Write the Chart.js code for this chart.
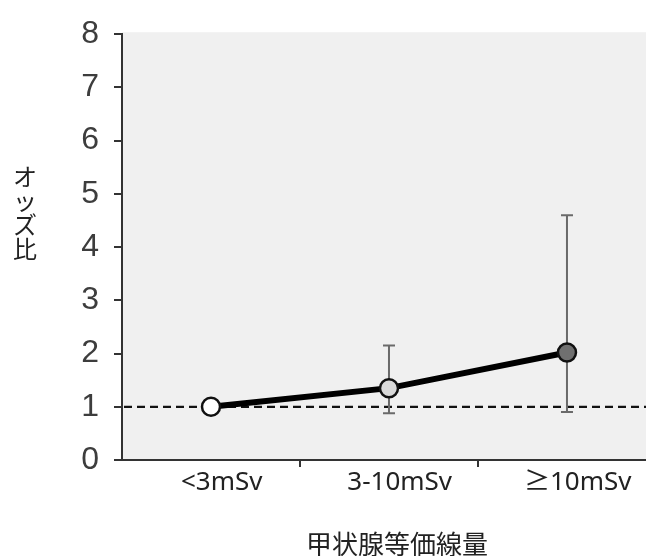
<!DOCTYPE html>
<html>
<head>
<meta charset="utf-8">
<script src="https://cdn.jsdelivr.net/npm/chart.js@4.4.1/dist/chart.umd.min.js"></script>
<style>
  html, body { margin: 0; padding: 0; background: #fff; overflow: hidden; }
</style>
</head>
<body>
<canvas id="c" width="646" height="556"></canvas>
<script>
const categories = ['<3mSv', '3-10mSv', '≥10mSv'];
const categoryPositions = [0, 1, 2];
const oddsRatio = [1.0, 1.35, 2.02];
const ciLow = [1.0, 0.88, 0.90];
const ciHigh = [1.0, 2.15, 4.6];
const yTicks = [0, 1, 2, 3, 4, 5, 6, 7, 8];
const xTickMarks = [0.5, 1.5];
const referenceValue = 1;
const xTitle = '甲状腺等価線量';
const yTitle = 'オッズ比';
const pointFills = ['#ffffff', '#d9d9d9', '#707070'];
const labelShift = 0.06; // label placement nudge (style)

const bgPlugin = {
  id: 'bg',
  beforeDraw(chart) {
    const { ctx, chartArea } = chart;
    ctx.save();
    ctx.fillStyle = '#f0f0f0';
    ctx.fillRect(chartArea.left, chartArea.top - 2, chartArea.right - chartArea.left, chartArea.bottom - chartArea.top + 2);
    ctx.restore();
  }
};

const refAndErrPlugin = {
  id: 'referr',
  beforeDatasetsDraw(chart) {
    const { ctx, chartArea, scales } = chart;
    const y = scales.y, x = scales.x;
    ctx.save();
    const yr = y.getPixelForValue(referenceValue);
    ctx.strokeStyle = '#111';
    ctx.lineWidth = 2.2;
    ctx.setLineDash([8, 5]);
    ctx.beginPath();
    ctx.moveTo(chartArea.left + 2, yr);
    ctx.lineTo(chartArea.right, yr);
    ctx.stroke();
    ctx.setLineDash([]);
    ctx.strokeStyle = '#6a6a6a';
    ctx.lineWidth = 2;
    categoryPositions.forEach((pos, i) => {
      if (ciHigh[i] === ciLow[i]) return;
      const px = x.getPixelForValue(pos);
      const yl = y.getPixelForValue(ciLow[i]);
      const yh = y.getPixelForValue(ciHigh[i]);
      ctx.beginPath();
      ctx.moveTo(px, yl); ctx.lineTo(px, yh);
      ctx.moveTo(px - 6, yl); ctx.lineTo(px + 6, yl);
      ctx.moveTo(px - 6, yh); ctx.lineTo(px + 6, yh);
      ctx.stroke();
    });
    ctx.restore();
  }
};

const titlesPlugin = {
  id: 'titles',
  afterDraw(chart) {
    const { ctx } = chart;
    ctx.save();
    ctx.fillStyle = '#222';
    ctx.font = '24px "Noto Sans CJK JP"';
    ctx.textAlign = 'center';
    ctx.textBaseline = 'middle';
    Array.from(yTitle).forEach((ch, i) => {
      ctx.fillText(ch, 25, 177 + i * 24);
    });
    ctx.font = '26px "Noto Sans CJK JP"';
    ctx.fillText(xTitle, 397, 544);
    ctx.restore();
  }
};

const labelPositions = categoryPositions.map(p => p + labelShift);

new Chart(document.getElementById('c'), {
  type: 'line',
  data: {
    datasets: [{
      data: categoryPositions.map((p, i) => ({ x: p, y: oddsRatio[i] })),
      borderColor: '#000',
      borderWidth: 6,
      tension: 0,
      pointRadius: 9,
      pointBorderWidth: 2.5,
      pointBorderColor: '#111',
      pointBackgroundColor: pointFills
    }]
  },
  options: {
    responsive: false,
    animation: false,
    layout: { autoPadding: false, padding: { top: 32, left: 0, right: 0, bottom: 0 } },
    plugins: { legend: { display: false }, tooltip: { enabled: false } },
    scales: {
      x: {
        type: 'linear',
        min: -0.5,
        max: 2.444,
        afterBuildTicks(s) {
          s.ticks = labelPositions.concat(xTickMarks).sort((a, b) => a - b).map(v => ({ value: v }));
        },
        grid: {
          drawOnChartArea: false, tickLength: 7, lineWidth: 2,
          tickColor: (c) => (c.tick && xTickMarks.includes(c.tick.value)) ? '#333' : 'rgba(0,0,0,0)'
        },
        border: { color: '#333', width: 2 },
        ticks: {
          color: '#222', padding: 0, maxRotation: 0, autoSkip: false,
          font: { family: '"Noto Sans", "Noto Sans CJK JP"', size: 26 },
          callback: (v) => {
            const i = labelPositions.findIndex(p => Math.abs(p - v) < 1e-6);
            return i >= 0 ? categories[i] : '';
          }
        },
        afterFit(s) { s.height = 96; s.paddingLeft = 0; s.paddingRight = 0; }
      },
      y: {
        min: 0, max: 8,
        afterBuildTicks(s) { s.ticks = yTicks.map(v => ({ value: v })); },
        grid: { drawOnChartArea: false, tickLength: 8, color: '#333', lineWidth: 2 },
        border: { color: '#333', width: 2 },
        ticks: { color: '#3d3d3d', padding: 15, font: { family: '"Liberation Sans", Arial', size: 32 } },
        afterFit(s) { s.width = 122; }
      }
    }
  },
  plugins: [bgPlugin, refAndErrPlugin, titlesPlugin]
});
</script>
</body>
</html>
